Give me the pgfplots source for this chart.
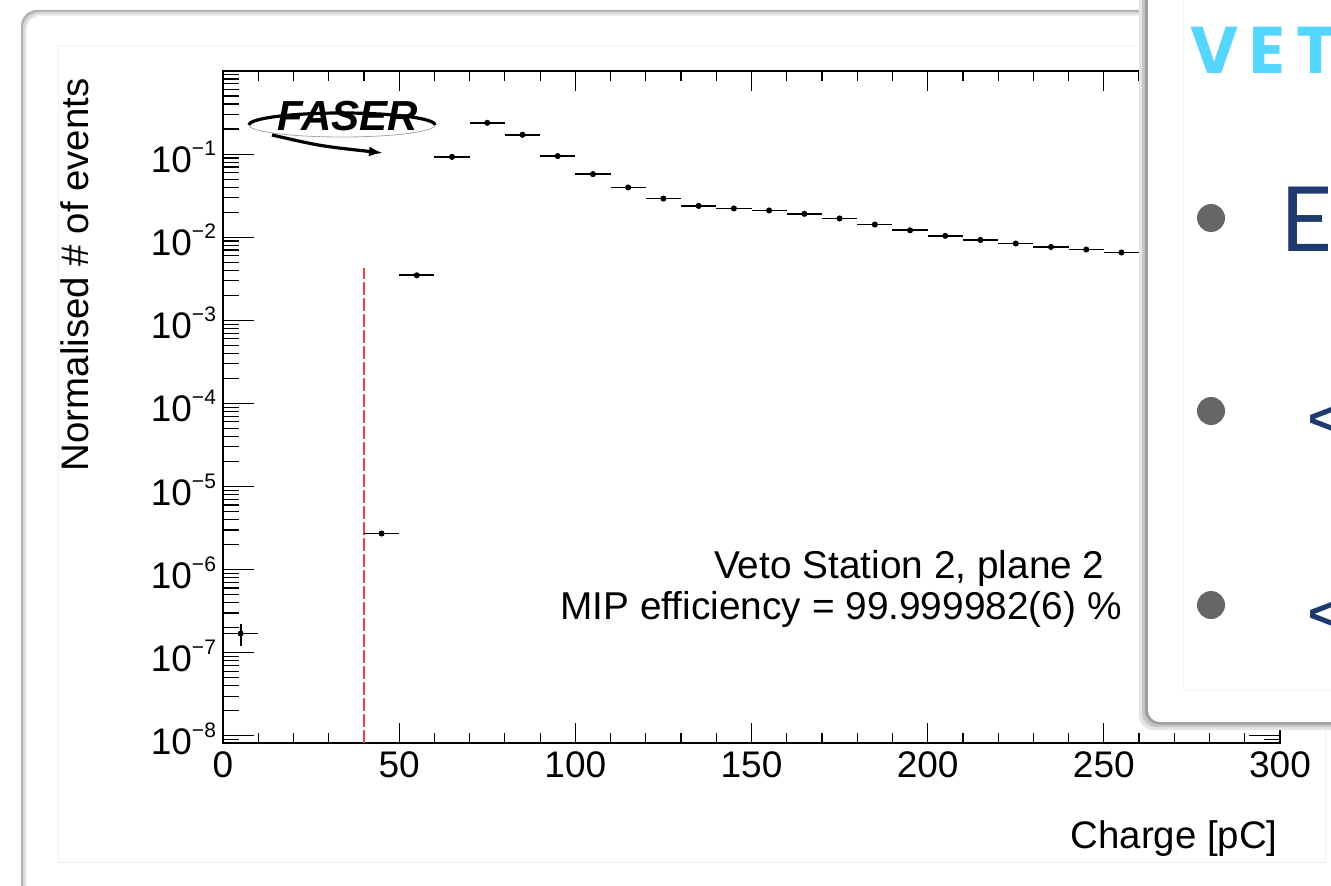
\documentclass[border=0pt]{standalone}
\usepackage{pgfplots}
\pgfplotsset{compat=1.18}
\usepackage{pgfplotstable}
\usetikzlibrary{arrows.meta}
\usepackage{fontspec}
\setmainfont{Liberation Sans}
\newfontfamily\vetfont[LetterSpace=17]{Poppins}
\newfontfamily\latofont{Lato}
\definecolor{vetcyan}{HTML}{55D6FF}
\definecolor{navy}{HTML}{1F3B6E}
\definecolor{bulletgray}{HTML}{666666}
\definecolor{cutred}{HTML}{F24444}
\newcommand\sx[1]{\raisebox{0.46em}{\fontsize{10.5}{10.5}\selectfont #1}}

\pgfplotstableread{
x y ex ey
5 1.7e-7 5 0.5e-7
45 2.72e-6 5 0
55 3.48e-3 5 0
65 0.0927 5 0
75 0.238 5 0
85 0.171 5 0
95 0.0946 5 0
105 0.0574 5 0
115 0.0397 5 0
125 0.0292 5 0
135 0.0238 5 0
145 0.0222 5 0
155 0.0210 5 0
165 0.0191 5 0
175 0.0168 5 0
185 0.0142 5 0
195 0.0121 5 0
205 0.0104 5 0
215 0.00927 5 0
225 0.00839 5 0
235 0.00764 5 0
245 0.00711 5 0
255 0.00655 5 0
265 0.00596 5 0
}\datatab

\begin{document}
\begin{tikzpicture}
\clip (0,0) rectangle (665.5pt,442.5pt);
\fill[white] (0,0) rectangle (665.5pt,442.5pt);
\begin{scope}[x=0.5pt,y=-0.5pt,yshift=442.5pt]
 \fill[black!30, rounded corners=8pt] (21,10) rectangle (1500,1000);
 \fill[black!16, rounded corners=8pt] (23,12) rectangle (1500,1000);
 \fill[black!7, rounded corners=8pt] (25,14) rectangle (1500,1000);
 \fill[white, rounded corners=7pt] (27,16) rectangle (1500,1000);
 \draw[black!6, line width=0.5pt] (58,46) rectangle (1325,862);
\end{scope}

\begin{axis}[
  at={(111.5pt,71pt)}, anchor=south west,
  scale only axis, width=528.5pt, height=336pt,
  xmin=0, xmax=300, ymode=log, ymin=8.2e-9, ymax=1,
  xtick={0,50,...,300}, minor x tick num=4,
  ytick={1e-8,1e-7,1e-6,1e-5,1e-4,1e-3,1e-2,1e-1},
  yticklabels={10\sx{−8},10\sx{−7},10\sx{−6},10\sx{−5},10\sx{−4},10\sx{−3},10\sx{−2},10\sx{−1}},
  minor ytick={9e-9,2e-8,3e-8,4e-8,5e-8,6e-8,7e-8,8e-8,9e-8,
    2e-7,3e-7,4e-7,5e-7,6e-7,7e-7,8e-7,9e-7,
    2e-6,3e-6,4e-6,5e-6,6e-6,7e-6,8e-6,9e-6,
    2e-5,3e-5,4e-5,5e-5,6e-5,7e-5,8e-5,9e-5,
    2e-4,3e-4,4e-4,5e-4,6e-4,7e-4,8e-4,9e-4,
    2e-3,3e-3,4e-3,5e-3,6e-3,7e-3,8e-3,9e-3,
    2e-2,3e-2,4e-2,5e-2,6e-2,7e-2,8e-2,9e-2,
    2e-1,3e-1,4e-1,5e-1,6e-1,7e-1,8e-1,9e-1},
  tick align=inside,
  xtick style={/pgfplots/major tick length=10pt, /pgfplots/minor tick length=5pt},
  ytick style={/pgfplots/major tick length=15.5pt, /pgfplots/minor tick length=8pt},
  tick style={black, line width=0.6pt},
  axis line style={line width=0.8pt},
  ticklabel style={font=\fontsize{18.5}{20}\selectfont},
  /pgf/number format/assume math mode=true,
  xticklabel style={yshift=-1pt},
  yticklabel style={yshift=-1.5pt},
]
\addplot[cutred, line width=1pt, dash pattern=on 6.5pt off 1.5pt, forget plot] coordinates {(40,8.2e-9) (40,4.24e-3)};
\addplot[only marks, mark=*, mark size=1.3pt, black,
  error bars/.cd, x dir=both, x explicit, y dir=both, y explicit,
  error mark=none, error bar style={line width=0.9pt, black}]
  table[x=x, y=y, x error=ex, y error=ey] {\datatab};
\end{axis}

\begin{scope}[x=0.5pt,y=-0.5pt,yshift=442.5pt]
 % FASER logo
 \draw[black!35, line width=0.4pt] (249,125) arc[start angle=180, end angle=0, x radius=93, y radius=12];
 \draw[black, line width=1.6pt] (249,125) arc[start angle=180, end angle=360, x radius=93, y radius=12];
 \draw[black, line width=1.6pt, -{Latex[length=7pt,width=5pt]}] (272,135) .. controls (320,146) .. (383,153);
 \node[inner sep=0, font=\fontsize{21}{21}\selectfont\bfseries\itshape] at (348,116) {FASER};
 % texts
 \node[inner sep=0, rotate=90, anchor=base east, font=\fontsize{19.2}{20}\selectfont] at (88,78) {Normalised \# of events};
 \node[inner sep=0, anchor=base east, font=\fontsize{19.2}{20}\selectfont] at (1278,848) {Charge [pC]};
 \node[inner sep=0, anchor=base east, font=\fontsize{19.4}{20}\selectfont] at (1105,578) {Veto Station 2, plane 2};
 \node[inner sep=0, anchor=base east, font=\fontsize{19.4}{20}\selectfont] at (1122,619) {MIP efficiency = 99.999982(6) \%};
 % overlay panel
 \fill[black!10, rounded corners=7pt] (1139,-30) rectangle (1500,730);
 \fill[black!22, rounded corners=7pt] (1142,-30) rectangle (1500,727);
 \fill[black!38, rounded corners=7pt] (1145,-30) rectangle (1500,724.5);
 \fill[white, rounded corners=6pt] (1148,-30) rectangle (1500,722);
 \draw[black!4, line width=0.5pt] (1183,-10) -- (1183,690) -- (1500,690);
 \node[anchor=base west, inner sep=0, text=vetcyan, font=\vetfont\bfseries\fontsize{33}{34}\selectfont] at (1190,74) {VETO};
 \fill[bulletgray] (1211,218) circle [radius=14];
 \fill[bulletgray] (1211,411) circle [radius=14];
 \fill[bulletgray] (1211,605) circle [radius=14];
 \node[anchor=base west, inner sep=0, text=navy, font=\latofont\fontsize{45}{46}\selectfont] at (1280,252) {E};
 \node[anchor=base west, inner sep=0, text=navy, font=\bfseries\fontsize{24.5}{25}\selectfont] at (1308,435) {<};
 \node[anchor=base west, inner sep=0, text=navy, font=\bfseries\fontsize{24.5}{25}\selectfont] at (1308,630) {<};
\end{scope}
\end{tikzpicture}
\end{document}
